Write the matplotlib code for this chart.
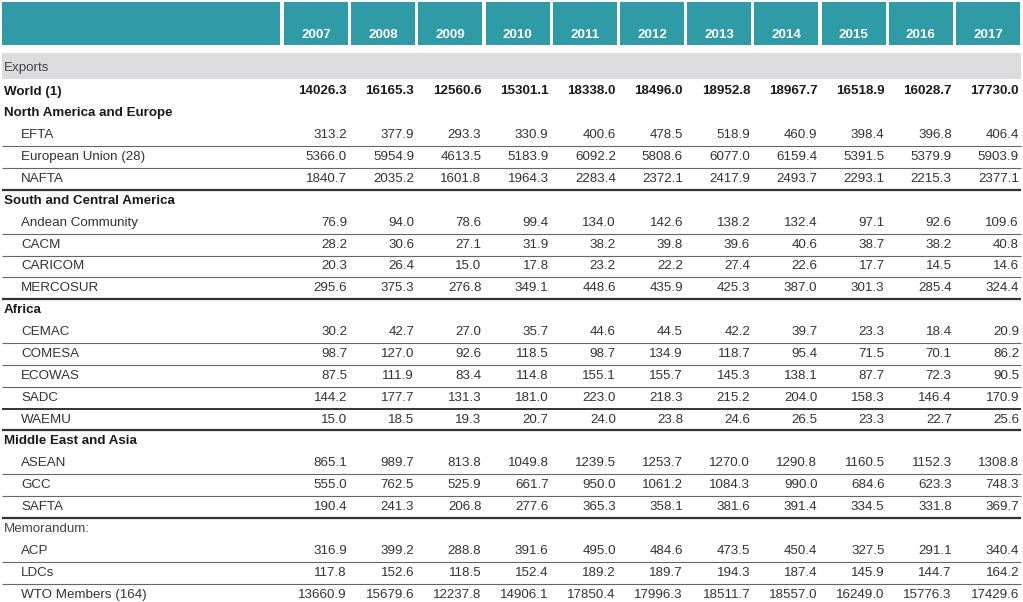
import matplotlib.pyplot as plt
from matplotlib.patches import Rectangle

# ---------------------------------------------------------------------------
# Table data
years = ['2007', '2008', '2009', '2010', '2011', '2012',
         '2013', '2014', '2015', '2016', '2017']

world = [14026.3, 16165.3, 12560.6, 15301.1, 18338.0, 18496.0, 18952.8, 18967.7, 16518.9, 16028.7, 17730.0]
efta = [313.2, 377.9, 293.3, 330.9, 400.6, 478.5, 518.9, 460.9, 398.4, 396.8, 406.4]
eu28 = [5366.0, 5954.9, 4613.5, 5183.9, 6092.2, 5808.6, 6077.0, 6159.4, 5391.5, 5379.9, 5903.9]
nafta = [1840.7, 2035.2, 1601.8, 1964.3, 2283.4, 2372.1, 2417.9, 2493.7, 2293.1, 2215.3, 2377.1]
andean = [76.9, 94.0, 78.6, 99.4, 134.0, 142.6, 138.2, 132.4, 97.1, 92.6, 109.6]
cacm = [28.2, 30.6, 27.1, 31.9, 38.2, 39.8, 39.6, 40.6, 38.7, 38.2, 40.8]
caricom = [20.3, 26.4, 15.0, 17.8, 23.2, 22.2, 27.4, 22.6, 17.7, 14.5, 14.6]
mercosur = [295.6, 375.3, 276.8, 349.1, 448.6, 435.9, 425.3, 387.0, 301.3, 285.4, 324.4]
cemac = [30.2, 42.7, 27.0, 35.7, 44.6, 44.5, 42.2, 39.7, 23.3, 18.4, 20.9]
comesa = [98.7, 127.0, 92.6, 118.5, 98.7, 134.9, 118.7, 95.4, 71.5, 70.1, 86.2]
ecowas = [87.5, 111.9, 83.4, 114.8, 155.1, 155.7, 145.3, 138.1, 87.7, 72.3, 90.5]
sadc = [144.2, 177.7, 131.3, 181.0, 223.0, 218.3, 215.2, 204.0, 158.3, 146.4, 170.9]
waemu = [15.0, 18.5, 19.3, 20.7, 24.0, 23.8, 24.6, 26.5, 23.3, 22.7, 25.6]
asean = [865.1, 989.7, 813.8, 1049.8, 1239.5, 1253.7, 1270.0, 1290.8, 1160.5, 1152.3, 1308.8]
gcc = [555.0, 762.5, 525.9, 661.7, 950.0, 1061.2, 1084.3, 990.0, 684.6, 623.3, 748.3]
safta = [190.4, 241.3, 206.8, 277.6, 365.3, 358.1, 381.6, 391.4, 334.5, 331.8, 369.7]
acp = [316.9, 399.2, 288.8, 391.6, 495.0, 484.6, 473.5, 450.4, 327.5, 291.1, 340.4]
ldcs = [117.8, 152.6, 118.5, 152.4, 189.2, 189.7, 194.3, 187.4, 145.9, 144.7, 164.2]
wto = [13660.9, 15679.6, 12237.8, 14906.1, 17850.4, 17996.3, 18511.7, 18557.0, 16249.0, 15776.3, 17429.6]

# (label, kind, values, line under the row)
rows = [
    ('Exports', 'band', None, None),
    ('World (1)', 'total', world, None),
    ('North America and Europe', 'group', None, None),
    ('EFTA', 'item', efta, 'thin'),
    ('European Union (28)', 'item', eu28, 'thin'),
    ('NAFTA', 'item', nafta, 'thick'),
    ('South and Central America', 'group', None, None),
    ('Andean Community', 'item', andean, 'thin'),
    ('CACM', 'item', cacm, 'thin'),
    ('CARICOM', 'item', caricom, 'thin'),
    ('MERCOSUR', 'item', mercosur, 'thick'),
    ('Africa', 'group', None, None),
    ('CEMAC', 'item', cemac, 'thin'),
    ('COMESA', 'item', comesa, 'thin'),
    ('ECOWAS', 'item', ecowas, 'thin'),
    ('SADC', 'item', sadc, 'mid'),
    ('WAEMU', 'item', waemu, 'thick'),
    ('Middle East and Asia', 'group', None, None),
    ('ASEAN', 'item', asean, 'thin'),
    ('GCC', 'item', gcc, 'thin'),
    ('SAFTA', 'item', safta, 'thick'),
    ('Memorandum:', 'memo', None, None),
    ('ACP', 'item', acp, 'thin'),
    ('LDCs', 'item', ldcs, 'thin'),
    ('WTO Members (164)', 'item', wto, None),
]

#----------------------------------------------------------------------------------
plt.rcParams['font.family'] = ['Liberation Sans', 'DejaVu Sans']

W, H = 1023, 602
fig = plt.figure(figsize=(W / 100, H / 100), dpi=100)
ax = fig.add_axes([0, 0, 1, 1])
ax.set_xlim(0, W)
ax.set_ylim(H, 0)
ax.axis('off')

teal = '#2f9ba7'
col_w = 67.2
col0 = 284
box_w = 64
fs = 9.6

# header boxes
ax.add_patch(Rectangle((2, 2), 278, 43, color=teal, lw=0))
for i, yr in enumerate(years):
    x = col0 + i * col_w
    ax.add_patch(Rectangle((x, 2), box_w, 43, color=teal, lw=0))
    ax.text(x + box_w / 2, 35, yr, color='white', fontsize=fs, fontweight='bold',
            ha='center', va='center')

# body rows
pitch = 21.87
for r, (label, kind, vals, line) in enumerate(rows):
    y = 67.5 if r == 0 else 91.5 + (r - 1) * pitch
    if kind == 'band':
        ax.add_patch(Rectangle((2, y - 14.5), W - 4, 26, color='#dcdcde', lw=0))
        ax.text(4, y, label, color='#444444', fontsize=fs, va='center')
        continue
    if kind in ('total', 'group'):
        ax.text(4, y, label, color='#1a1a1a', fontsize=fs, fontweight='bold', va='center')
    elif kind == 'memo':
        ax.text(4, y, label, color='#444444', fontsize=fs, va='center')
    else:
        ax.text(21, y, label, color='#333333', fontsize=fs, va='center')
    if vals is not None:
        for i, v in enumerate(vals):
            x = col0 + i * col_w + box_w - 1
            ax.text(x, y, f'{v:.1f}', fontsize=fs, ha='right', va='center',
                    color='#1a1a1a' if kind == 'total' else '#333333',
                    fontweight='bold' if kind == 'total' else 'normal')
    if line is not None:
        ly = y + pitch / 2
        lw, c = {'thin': (0.8, '#666666'), 'mid': (1.2, '#111111'),
                 'thick': (1.6, '#333333')}[line]
        ax.plot([2, W - 2], [ly, ly], color=c, lw=lw, solid_capstyle='butt')

fig.savefig('out.png', dpi=100)
